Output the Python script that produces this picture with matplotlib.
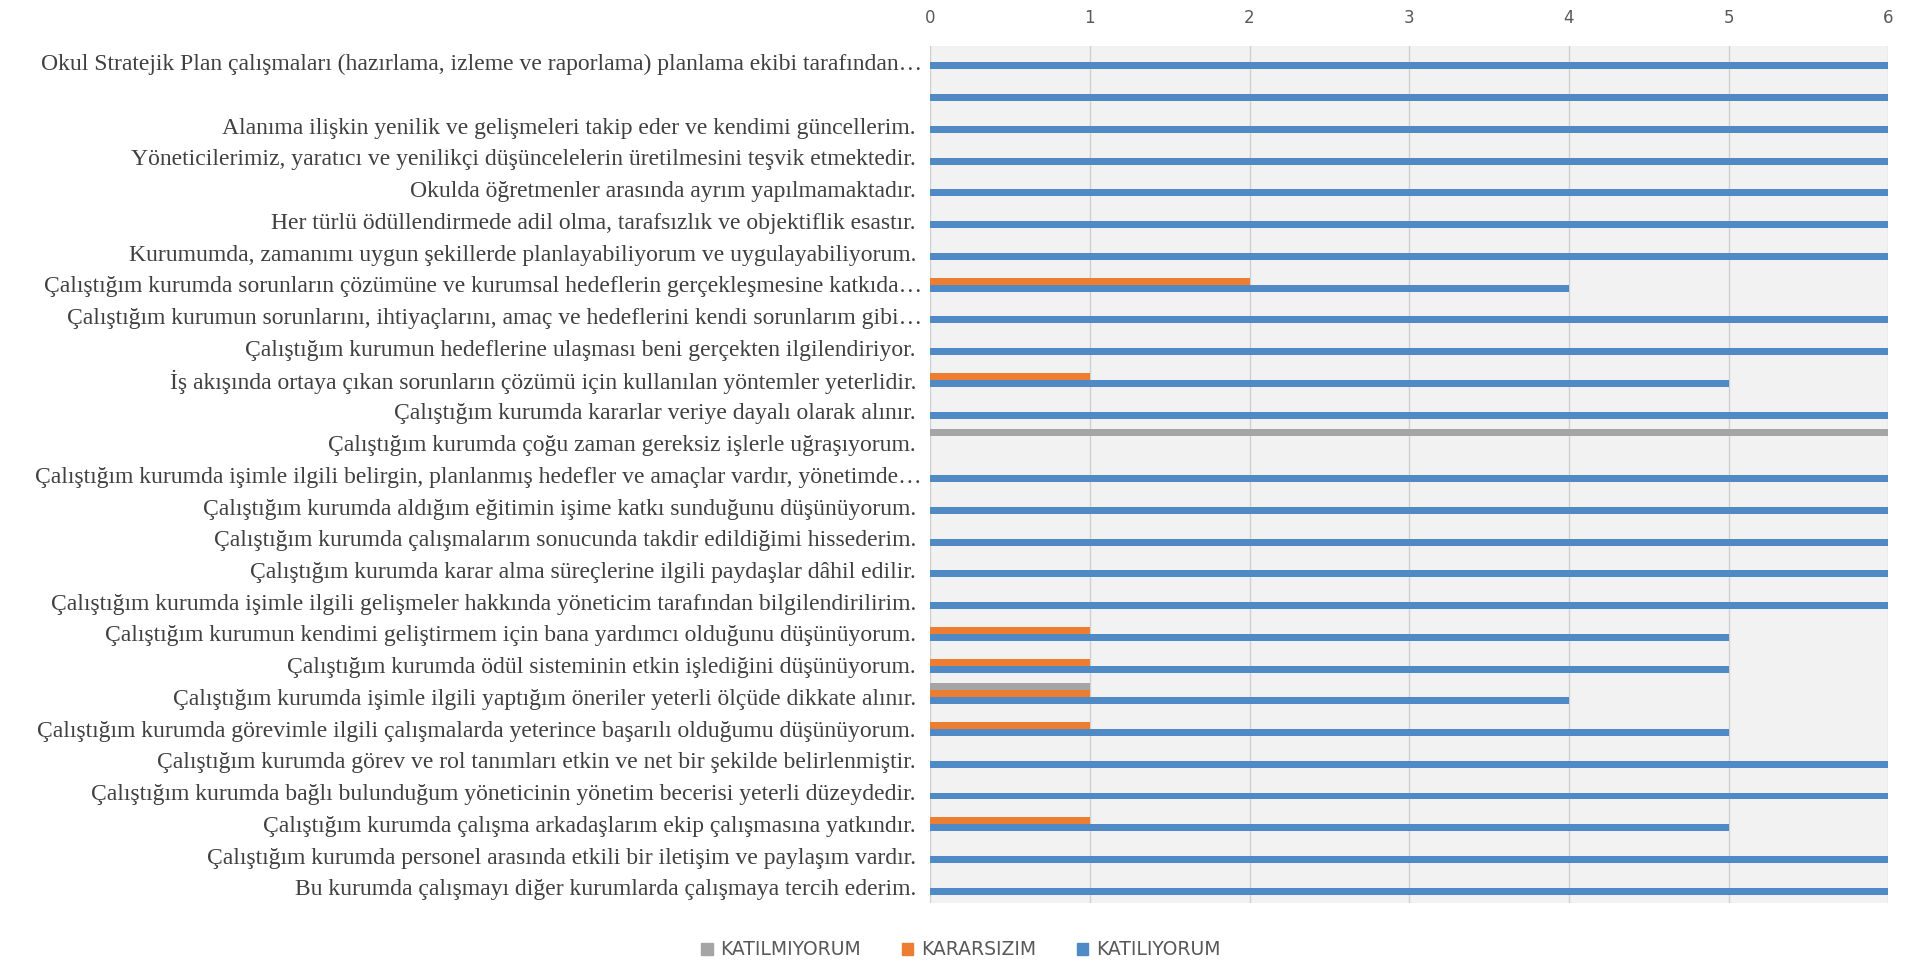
import numpy as np
import matplotlib.pyplot as plt
from matplotlib.patches import Patch

# survey items, top to bottom as in the chart
items = [
    "Okul Stratejik Plan çalışmaları (hazırlama, izleme ve raporlama) planlama ekibi tarafından…",
    "",
    "Alanıma ilişkin yenilik ve gelişmeleri takip eder ve kendimi güncellerim. ",
    "Yöneticilerimiz, yaratıcı ve yenilikçi düşüncelelerin üretilmesini teşvik etmektedir. ",
    "Okulda öğretmenler arasında ayrım yapılmamaktadır. ",
    "Her türlü ödüllendirmede adil olma, tarafsızlık ve objektiflik esastır. ",
    "Kurumumda, zamanımı uygun şekillerde planlayabiliyorum ve uygulayabiliyorum. ",
    "Çalıştığım kurumda sorunların çözümüne ve kurumsal hedeflerin gerçekleşmesine katkıda…",
    "Çalıştığım kurumun sorunlarını, ihtiyaçlarını, amaç ve hedeflerini kendi sorunlarım gibi…",
    "Çalıştığım kurumun hedeflerine ulaşması beni gerçekten ilgilendiriyor. ",
    "İş akışında ortaya çıkan sorunların çözümü için kullanılan yöntemler yeterlidir. ",
    "Çalıştığım kurumda kararlar veriye dayalı olarak alınır. ",
    "Çalıştığım kurumda çoğu zaman gereksiz işlerle uğraşıyorum. ",
    "Çalıştığım kurumda işimle ilgili belirgin, planlanmış hedefler ve amaçlar vardır, yönetimde…",
    "Çalıştığım kurumda aldığım eğitimin işime katkı sunduğunu düşünüyorum. ",
    "Çalıştığım kurumda çalışmalarım sonucunda takdir edildiğimi hissederim. ",
    "Çalıştığım kurumda karar alma süreçlerine ilgili paydaşlar dâhil edilir. ",
    "Çalıştığım kurumda işimle ilgili gelişmeler hakkında yöneticim tarafından bilgilendirilirim. ",
    "Çalıştığım kurumun kendimi geliştirmem için bana yardımcı olduğunu düşünüyorum. ",
    "Çalıştığım kurumda ödül sisteminin etkin işlediğini düşünüyorum. ",
    "Çalıştığım kurumda işimle ilgili yaptığım öneriler yeterli ölçüde dikkate alınır. ",
    "Çalıştığım kurumda görevimle ilgili çalışmalarda yeterince başarılı olduğumu düşünüyorum. ",
    "Çalıştığım kurumda görev ve rol tanımları etkin ve net bir şekilde belirlenmiştir. ",
    "Çalıştığım kurumda bağlı bulunduğum yöneticinin yönetim becerisi yeterli düzeydedir. ",
    "Çalıştığım kurumda çalışma arkadaşlarım ekip çalışmasına yatkındır. ",
    "Çalıştığım kurumda personel arasında etkili bir iletişim ve paylaşım vardır. ",
    "Bu kurumda çalışmayı diğer kurumlarda çalışmaya tercih ederim. ",
]

katilmiyorum = [0, 0, 0, 0, 0, 0, 0, 0, 0, 0, 0, 0, 6, 0, 0, 0, 0, 0, 0, 0, 1, 0, 0, 0, 0, 0, 0]
kararsizim   = [0, 0, 0, 0, 0, 0, 0, 2, 0, 0, 1, 0, 0, 0, 0, 0, 0, 0, 1, 1, 1, 1, 0, 0, 1, 0, 0]
katiliyorum  = [6, 6, 6, 6, 6, 6, 6, 4, 6, 6, 5, 6, 0, 6, 6, 6, 6, 6, 5, 5, 4, 5, 6, 6, 5, 6, 6]

series_names = ["KATILMIYORUM", "KARARSIZIM", "KATILIYORUM"]
colors = ["#A5A5A5", "#ED7D31", "#4F89C6"]

fig = plt.figure(figsize=(19.14, 9.63), dpi=100)
ax = fig.add_axes([0.486, 0.062, 0.5005, 0.890])
ax.set_facecolor("#F2F2F2")

y = np.arange(len(items))
h = 0.22
for vals, off, c in zip([katilmiyorum, kararsizim, katiliyorum], [-0.32, -0.1, 0.12], colors):
    ax.barh(y + off, vals, height=h, color=c, zorder=3)

ax.set_ylim(len(items) - 0.5, -0.5)
ax.set_xlim(0, 6)
ax.set_xticks(range(7))
ax.xaxis.tick_top()
ax.tick_params(axis="x", length=0, pad=14, labelsize=12, labelcolor="#595959")

ax.set_yticks(y)
ax.set_yticklabels(items, family=["Liberation Serif", "DejaVu Serif"], fontsize=17, color="#404040")
ax.tick_params(axis="y", length=0, pad=6)

ax.grid(axis="x", color="#D0D0D0", linewidth=1, zorder=0)
for s in ax.spines.values():
    s.set_visible(False)

handles = [Patch(color=c, label=n) for c, n in zip(colors, series_names)]
fig.legend(handles=handles, loc="center", bbox_to_anchor=(0.502, 0.0135), ncol=3, frameon=False,
           handlelength=0.6, handleheight=0.6, handletextpad=0.4, columnspacing=2.2,
           prop={"size": 13.5}, labelcolor="#595959")

fig.savefig("out.png", dpi=100, facecolor="white")
